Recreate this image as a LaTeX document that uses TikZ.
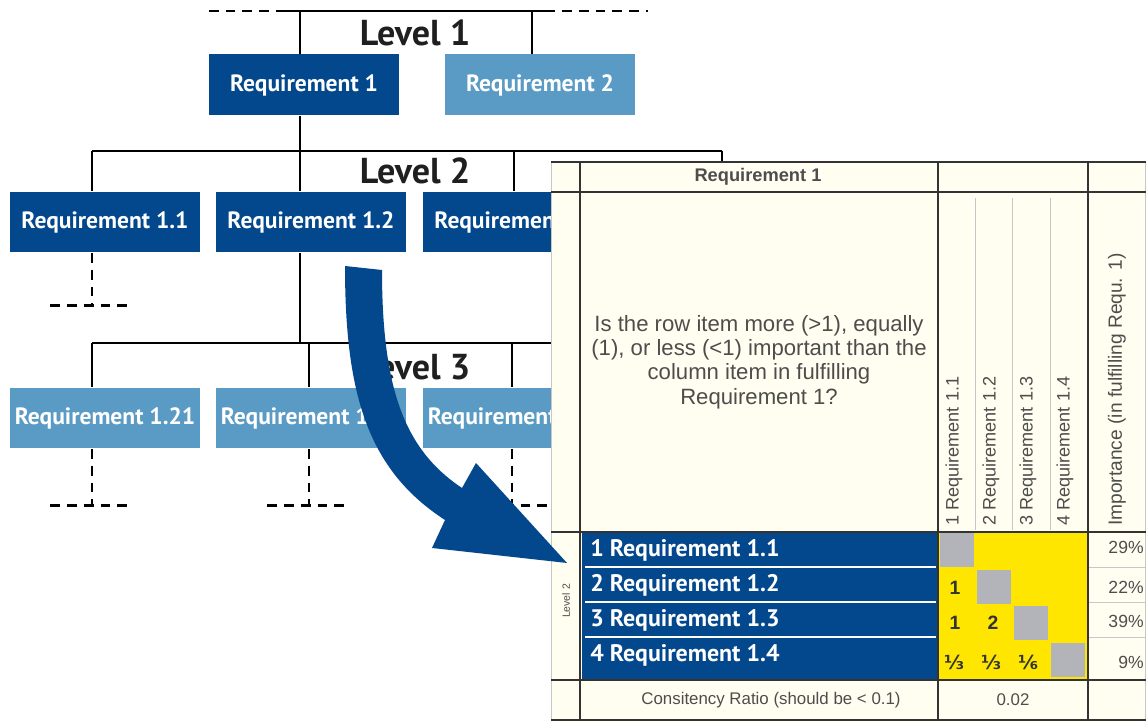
\documentclass[tikz,border=0pt]{standalone}
\usepackage{fontspec}
\setmainfont{Liberation Sans}
\newfontfamily\treefont{PT Sans}
\newfontfamily\fracfont{DejaVu Sans}
\definecolor{darkblue}{HTML}{03488D}
\definecolor{lightblue}{HTML}{5A9BC5}
\definecolor{cellyellow}{HTML}{FFE600}
\definecolor{cellgray}{HTML}{B3B3BA}
\definecolor{tablecream}{HTML}{FFFEF1}
\definecolor{textgray}{HTML}{4D4D4D}

\begin{document}
\begin{tikzpicture}[x=0.02cm,y=-0.02cm,
	req/.style={fill=darkblue,text=white,minimum width=3.8cm,minimum height=1.22cm,inner sep=0pt,
		font=\treefont\bfseries\fontsize{13.4}{15}\selectfont},
	lightreq/.style={req,fill=lightblue},
	lvl/.style={text=black!88,font=\treefont\bfseries\fontsize{20.5}{22}\selectfont},
	link/.style={line width=1.6pt},
	stub/.style={line width=1.6pt,dash pattern=on 5.6pt off 4pt},
	grid/.style={line width=1.3pt,black!80},
	thin/.style={line width=0.5pt,black!22},
	cell/.style={text=textgray,inner sep=0pt},
	rowlab/.style={anchor=west,text=white,inner sep=0pt,font=\treefont\bfseries\fontsize{13.6}{15}\selectfont},
	val/.style={text=black!80,font=\bfseries\fontsize{11}{12}\selectfont}]
\useasboundingbox (0,0) rectangle (1146,722);

\node[lvl] (lvl1) at (415,33) {Level 1};
\node[req] (req1) at (304,85) {Requirement 1};
\node[lightreq] (req2) at (540,85) {Requirement 2};

\node[lvl] (lvl2) at (415,171) {Level 2};
\node[req] (req11) at (105,222) {Requirement 1.1};
\node[req] (req12) at (311,222) {Requirement 1.2};
\node[req] (req13) at (518,222) {Requirement 1.3};

\node[lvl] (lvl3) at (415,367) {Level 3};
\node[lightreq] (req121) at (105,418) {Requirement 1.21};
\node[lightreq] (req122) at (311,418) {Requirement 1.22};
\node[lightreq] (req123) at (518,418) {Requirement 1.23};

\coordinate (v1) at (300,11);
\coordinate (v2) at (532,11);
\draw[link] ([xshift=-0.28cm]v1) -- ([xshift=0.26cm]v2);
\draw[stub] ([xshift=-0.28cm]v1) -- ++(-81,0);
\draw[stub] ([xshift=0.26cm]v2) -- ++(103,0);
\draw[link] (v1) -- (v1 |- req1.north);
\draw[link] (v2) -- (v2 |- req2.north);

\coordinate (v11) at (92,151);
\coordinate (v12) at (300,151);
\coordinate (v13) at (514,151);
\coordinate (v14) at (722,151);
\draw[link] (v11) -- (v14);
\draw[link] (v12 |- req1.south) -- (v12);
\foreach \v/\r in {v11/req11,v12/req12,v13/req13}
	\draw[link] (\v) -- (\v |- \r.north);
\draw[link] (v14) -- ++(0,40);
\draw[stub] (v11 |- req11.south) -- ++(0,53) coordinate (e11);
\draw[stub] (e11) ++(-42,0) -- ++(84,0);

\coordinate (v121) at (92,343);
\coordinate (v122) at (309,343);
\coordinate (v123) at (512,343);
\coordinate (v124) at (722,343);
\draw[link] (v121) -- (v124);
\draw[link] (v12 |- req12.south) -- (v12 |- v121);
\foreach \v/\r in {v121/req121,v122/req122,v123/req123}{
	\draw[link] (\v) -- (\v |- \r.north);
	\draw[stub] (\v |- \r.south) -- ++(0,57) coordinate (e);
	\draw[stub] (e) ++(-42,0) -- ++(84,0);
}

\fill[tablecream] (551,162) rectangle (1146,722);
\fill[darkblue] (582,533) rectangle (937,679);
\fill[cellyellow] (939,533) rectangle (1087,679);
\foreach \i in {0,...,3}
	\fill[cellgray] (940+37*\i,533+36.6*\i) rectangle (974+37*\i,567+36.6*\i);
\foreach \y in {567,602,637}{
	\draw[white,line width=1.1pt] (585,\y) -- (936,\y);
	\draw[thin] (1089,\y) -- (1146,\y);
}
\foreach \x in {975,1012,1050}
	\draw[thin] (\x,198) -- (\x,530);
\draw[thin] (551,162) -- (551,720) (1145,162) -- (1145,720);
\foreach \y in {162,192,532,680,720}
	\draw[grid] (551,\y) -- (1146,\y);
\foreach \x in {580,938,1088}
	\draw[grid] (\x,162) -- (\x,720);

\node[cell,font=\bfseries\fontsize{10.4}{12}\selectfont] (head) at (758,177) {Requirement 1};
\node[cell,align=center,font=\fontsize{12.6}{13.8}\selectfont] (question) at (759,362)
	{Is the row item more (>1), equally\\(1), or less (<1) important than the\\column item in fulfilling\\Requirement 1?};
\foreach \n/\x in {1/954,2/991,3/1028,4/1065}
	\node[cell,rotate=90,anchor=west,font=\fontsize{10.3}{12}\selectfont] (col\n) at (\x,526) {\n\ Requirement 1.\n};
\node[cell,rotate=90,anchor=west,font=\fontsize{10.9}{12}\selectfont] (imp) at (1117,526) {Importance (in fulfilling Requ. 1)};
\node[cell,rotate=90,font=\fontsize{6}{7}\selectfont] (lvl2tab) at (566,601) {Level 2};

\foreach \n/\y in {1/550,2/585,3/620,4/655}
	\node[rowlab] (row\n) at (590,\y) {\n\ Requirement 1.\n};
\node[val] (a21) at (955,588) {1};
\node[val] (a31) at (955,623) {1};
\node[val] (a32) at (993,623) {2};
\node[val,font=\fracfont\bfseries\fontsize{11}{12}\selectfont] (a41) at (954,662) {⅓};
\node[val,font=\fracfont\bfseries\fontsize{11}{12}\selectfont] (a42) at (991,662) {⅓};
\node[val,font=\fracfont\bfseries\fontsize{11}{12}\selectfont] (a43) at (1028,662) {⅙};
\foreach \p/\y in {29/547,22/587,39/621,9/662}
	\node[cell,anchor=east,font=\fontsize{10}{12}\selectfont] (imp\p) at (1144,\y) {\p\%};

\node[cell,font=\fontsize{9.6}{11}\selectfont] (cr) at (771,700) {Consitency Ratio (should be < 0.1)};
\node[cell,font=\fontsize{9.6}{11}\selectfont] (crval) at (1013,700) {0.02};

\fill[darkblue] (345,266) .. controls (345,395) and (368,470) .. (445,520)
	-- (432,548) -- (567,563) -- (476,463) -- (462,488)
	.. controls (405,450) and (382,390) .. (382,270) -- cycle;
\end{tikzpicture}
\end{document}
